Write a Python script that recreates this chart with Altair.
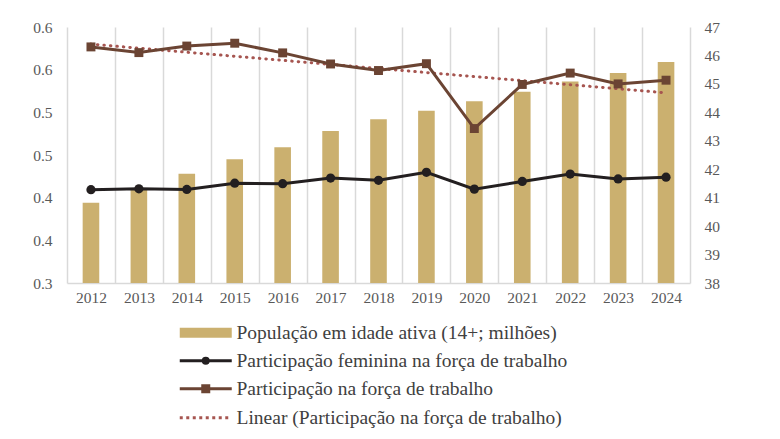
import altair as alt
import pandas as pd

years = [2012, 2013, 2014, 2015, 2016, 2017, 2018, 2019, 2020, 2021, 2022, 2023, 2024]
pop = [0.394, 0.410, 0.428, 0.445, 0.459, 0.478, 0.492, 0.502, 0.513, 0.524, 0.536, 0.546, 0.559]
fem = [41.28, 41.31, 41.29, 41.51, 41.49, 41.69, 41.61, 41.89, 41.30, 41.57, 41.83, 41.66, 41.72]
part = [46.30, 46.10, 46.33, 46.43, 46.09, 45.70, 45.47, 45.71, 43.43, 44.98, 45.38, 45.00, 45.13]

left_ticks = [0.30, 0.35, 0.40, 0.45, 0.50, 0.55, 0.60]
right_ticks = [38, 39, 40, 41, 42, 43, 44, 45, 46, 47]

lab_pop = "População em idade ativa (14+; milhões)"
lab_fem = "Participação feminina na força de trabalho"
lab_part = "Participação na força de trabalho"
lab_lin = "Linear (Participação na força de trabalho)"

c_pop = "#cbb06f"
c_fem = "#231f20"
c_part = "#6b4433"
c_lin = "#a65550"

df = pd.DataFrame({"year": years, "pop": pop, "fem": fem, "part": part})

FONT = "Liberation Serif"
LBL = "#595959"

x_enc = alt.X(
    "year:O",
    scale=alt.Scale(paddingInner=0, paddingOuter=0),
    axis=alt.Axis(
        title=None, tickBand="extent", grid=True, gridColor="#d9d9d9", gridWidth=1.5,
        ticks=False, domainColor="#d9d9d9", domainWidth=1.5, labelAngle=0,
        labelFont=FONT, labelFontSize=15.5, labelColor=LBL, labelPadding=7,
    ),
)


def right_y(field):
    return alt.Y(
        f"{field}:Q",
        scale=alt.Scale(domain=[38, 47], nice=False, zero=False),
        axis=alt.Axis(
            orient="right", title=None, values=right_ticks, format="d", grid=False,
            ticks=False, domain=False, labelPadding=14, labelFont=FONT,
            labelFontSize=15.5, labelColor=LBL,
        ),
    )


def leg(y, shape, fill, sw, label_offset=42, dash=None):
    kw = dict(
        orient="none", legendX=108, legendY=y, title=None, symbolType=shape,
        symbolSize=100, symbolFillColor=fill, symbolStrokeWidth=sw,
        labelOffset=label_offset, labelFont=FONT, labelFontSize=19.5,
        labelColor="#404040", labelLimit=0, padding=0,
    )
    if dash is not None:
        kw["symbolDash"] = dash
    return alt.Legend(**kw)


bars = (
    alt.Chart(df)
    .transform_calculate(series=f"'{lab_pop}'")
    .mark_bar(size=16.6)
    .encode(
        x=x_enc,
        y=alt.Y(
            "pop:Q",
            scale=alt.Scale(domain=[0.3, 0.6], nice=False, zero=False),
            axis=alt.Axis(
                title=None, values=left_ticks,
                labelExpr="format(datum.value + 0.000001, '.1f')",
                grid=False, ticks=False, domain=False, labelPadding=15,
                labelFont=FONT, labelFontSize=15.5, labelColor=LBL,
            ),
        ),
        y2=alt.datum(0.3),
        color=alt.Color(
            "series:N",
            scale=alt.Scale(domain=[lab_pop], range=[c_pop]),
            legend=leg(296, "M-1,-1H9.4V1H-1Z", c_pop, 0),
        ),
    )
)

fem_line = (
    alt.Chart(df)
    .transform_calculate(series=f"'{lab_fem}'")
    .mark_line(strokeWidth=3, point=alt.OverlayMarkDef(filled=True, size=85, shape="circle"))
    .encode(
        x=x_enc,
        y=right_y("fem"),
        color=alt.Color(
            "series:N",
            scale=alt.Scale(domain=[lab_fem], range=[c_fem]),
            legend=leg(324, "M-1,0H9.4M4.7,0A0.5,0.5,0,1,1,3.7,0A0.5,0.5,0,1,1,4.7,0Z", c_fem, 3),
        ),
    )
)

trend = (
    alt.Chart(df)
    .transform_regression("year", "part")
    .transform_calculate(series=f"'{lab_lin}'")
    .mark_line(strokeWidth=3, strokeDash=[0.5, 6], strokeCap="round")
    .encode(
        x=x_enc,
        y=right_y("part"),
        color=alt.Color(
            "series:N",
            scale=alt.Scale(domain=[lab_lin], range=[c_lin]),
            legend=leg(381, "M-1,0H9.4", "transparent", 3, dash=[3, 3.5]),
        ),
    )
)

part_line = (
    alt.Chart(df)
    .transform_calculate(series=f"'{lab_part}'")
    .mark_line(strokeWidth=3, point=alt.OverlayMarkDef(filled=True, size=80, shape="square"))
    .encode(
        x=x_enc,
        y=right_y("part"),
        color=alt.Color(
            "series:N",
            scale=alt.Scale(domain=[lab_part], range=[c_part]),
            legend=leg(352, "M-1,0H9.4M3.6,-0.6H4.8V0.6H3.6Z", c_part, 3),
        ),
    )
)

lines = alt.layer(fem_line, trend, part_line).resolve_scale(color="independent")

chart = (
    alt.layer(bars, lines)
    .resolve_scale(y="independent", color="independent")
    .properties(
        width=623, height=256,
        autosize=alt.AutoSizeParams(type="none"),
        padding={"left": 59, "top": 19, "right": 82, "bottom": 148},
    )
    .configure_view(stroke=None)
)

chart.save("out.html", embed_options={"renderer": "svg", "actions": False})
